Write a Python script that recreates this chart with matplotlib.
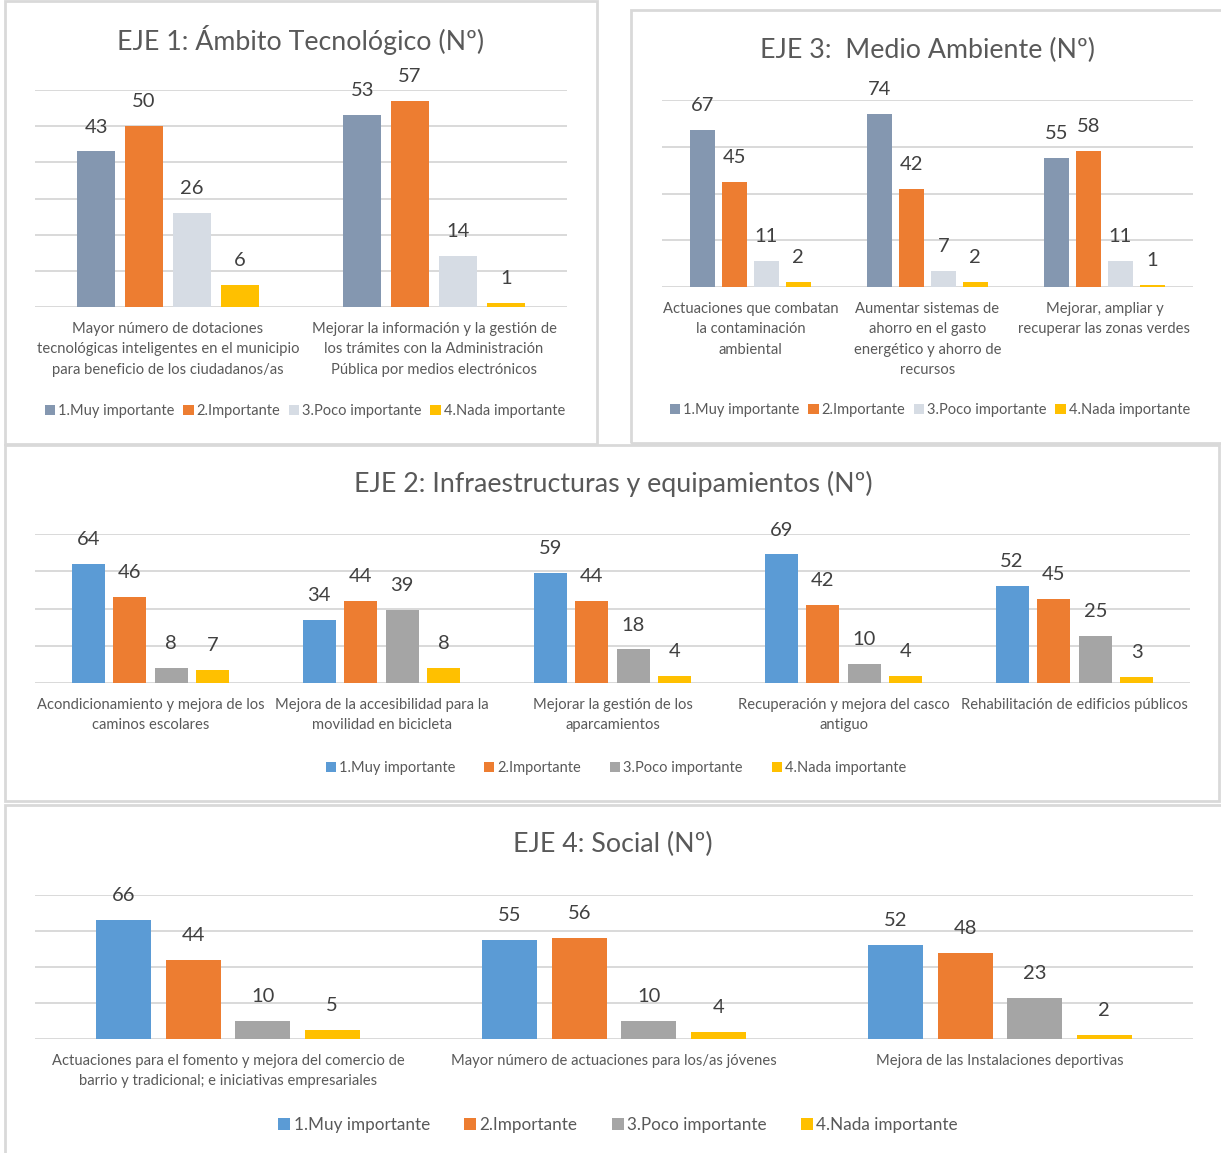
import numpy as np
import matplotlib.pyplot as plt
from matplotlib.patches import Rectangle

plt.rcParams['font.family'] = ['Lato', 'DejaVu Sans']

W, H = 1221, 1153

series = ['1.Muy importante', '2.Importante', '3.Poco importante', '4.Nada importante']
colores_gris = ['#8497B0', '#ED7D31', '#D6DCE4', '#FFC000']
colores_azul = ['#5B9BD5', '#ED7D31', '#A5A5A5', '#FFC000']

# EJE 1
eje1_cats = ['Mayor número de dotaciones\ntecnológicas inteligentes en el municipio\npara beneficio de los ciudadanos/as',
             'Mejorar la información y la gestión de\nlos trámites con la Administración\nPública por medios electrónicos']
eje1_muy = [43, 53]
eje1_imp = [50, 57]
eje1_poco = [26, 14]
eje1_nada = [6, 1]

# EJE 3
eje3_cats = ['Actuaciones que combatan\nla contaminación\nambiental',
             'Aumentar sistemas de\nahorro en el gasto\nenergético y ahorro de\nrecursos',
             'Mejorar, ampliar y\nrecuperar las zonas verdes']
eje3_muy = [67, 74, 55]
eje3_imp = [45, 42, 58]
eje3_poco = [11, 7, 11]
eje3_nada = [2, 2, 1]

# EJE 2
eje2_cats = ['Acondicionamiento y mejora de los\ncaminos escolares',
             'Mejora de la accesibilidad para la\nmovilidad en bicicleta',
             'Mejorar la gestión de los\naparcamientos',
             'Recuperación y mejora del casco\nantiguo',
             'Rehabilitación de edificios públicos']
eje2_muy = [64, 34, 59, 69, 52]
eje2_imp = [46, 44, 44, 42, 45]
eje2_poco = [8, 39, 18, 10, 25]
eje2_nada = [7, 8, 4, 4, 3]

# EJE 4
eje4_cats = ['Actuaciones para el fomento y mejora del comercio de\nbarrio y tradicional; e iniciativas empresariales',
             'Mayor número de actuaciones para los/as jóvenes',
             'Mejora de las Instalaciones deportivas']
eje4_muy = [66, 55, 52]
eje4_imp = [44, 56, 48]
eje4_poco = [10, 10, 23]
eje4_nada = [5, 4, 2]

fig = plt.figure(figsize=(W / 100, H / 100), dpi=100)


def fx(px):
    return px / W


def fy(py):
    return 1 - py / H


# marcos de cada gráfico
for x0, y0, x1, y1 in [(5, 1, 597, 444), (631, 10, 1223, 443),
                       (5, 445, 1219, 801), (5, 805, 1223, 1156)]:
    fig.add_artist(Rectangle((fx(x0), fy(y1)), fx(x1 - x0), (y1 - y0) / H,
                             transform=fig.transFigure, fill=False,
                             edgecolor='#D9D9D9', lw=2))


def grafico(box, titulo, tpos, cats, valores, colores, ymax, paso, lpos,
            fs_cat=10.6, fs_leg=10.5, colsp=0.6, lsp=1.6):
    l, t, r, b = box
    ax = fig.add_axes([fx(l), fy(b), fx(r - l), (b - t) / H])
    x = np.arange(len(cats))
    barras = []
    for i, (vals, c) in enumerate(zip(valores, colores)):
        bc = ax.bar(x + (i - 1.5) * 0.18, vals, 0.143, color=c, label=series[i], zorder=3)
        barras.append(bc)
        for xi, v in zip(x + (i - 1.5) * 0.18, vals):
            ax.annotate(str(v), (xi, v), xytext=(0, 11.5), textcoords='offset points',
                        ha='center', va='bottom', fontsize=14.5, color='#404040')
    ax.set_xlim(-0.5, len(cats) - 0.5)
    ax.set_ylim(0, ymax)
    ax.set_yticks(np.arange(0, ymax + 1, paso))
    ax.yaxis.grid(True, color='#D9D9D9', lw=1.4)
    ax.set_axisbelow(True)
    for s in ax.spines.values():
        s.set_visible(False)
    ax.tick_params(axis='y', length=0, labelleft=False)
    ax.set_xticks(x, cats)
    ax.tick_params(axis='x', length=0, pad=10.5, labelsize=fs_cat, labelcolor='#595959')
    for lab in ax.get_xticklabels():
        lab.set_linespacing(lsp)
        lab.set_va('top')
    fig.text(fx(tpos[0]), fy(tpos[1]), titulo, ha='center', va='center',
             fontsize=19.3, color='#595959')
    fig.legend(barras, series, loc='center', bbox_to_anchor=(fx(lpos[0]), fy(lpos[1])),
               ncol=4, frameon=False, fontsize=fs_leg, labelcolor='#595959',
               handlelength=0.7, handleheight=0.7, handletextpad=0.2,
               columnspacing=colsp, borderaxespad=0, borderpad=0)
    return ax


grafico((35, 90, 567, 307), 'EJE 1: Ámbito Tecnológico (Nº)', (301, 40), eje1_cats,
        [eje1_muy, eje1_imp, eje1_poco, eje1_nada], colores_gris, 60, 10, (305, 411))

grafico((662, 100, 1193, 287), 'EJE 3:  Medio Ambiente (Nº)', (927, 50), eje3_cats,
        [eje3_muy, eje3_imp, eje3_poco, eje3_nada], colores_gris, 80, 20, (930, 410))

grafico((35, 534, 1190, 683), 'EJE 2: Infraestructuras y equipamientos (Nº)', (613, 484), eje2_cats,
        [eje2_muy, eje2_imp, eje2_poco, eje2_nada], colores_azul, 80, 20, (616, 768),
        colsp=2.0)

grafico((35, 895, 1193, 1039), 'EJE 4: Social (Nº)', (613, 844), eje4_cats,
        [eje4_muy, eje4_imp, eje4_poco, eje4_nada], colores_azul, 80, 20, (618, 1125),
        fs_leg=12.3, colsp=2.0)

fig.savefig('out.png', dpi=100, facecolor='white')
